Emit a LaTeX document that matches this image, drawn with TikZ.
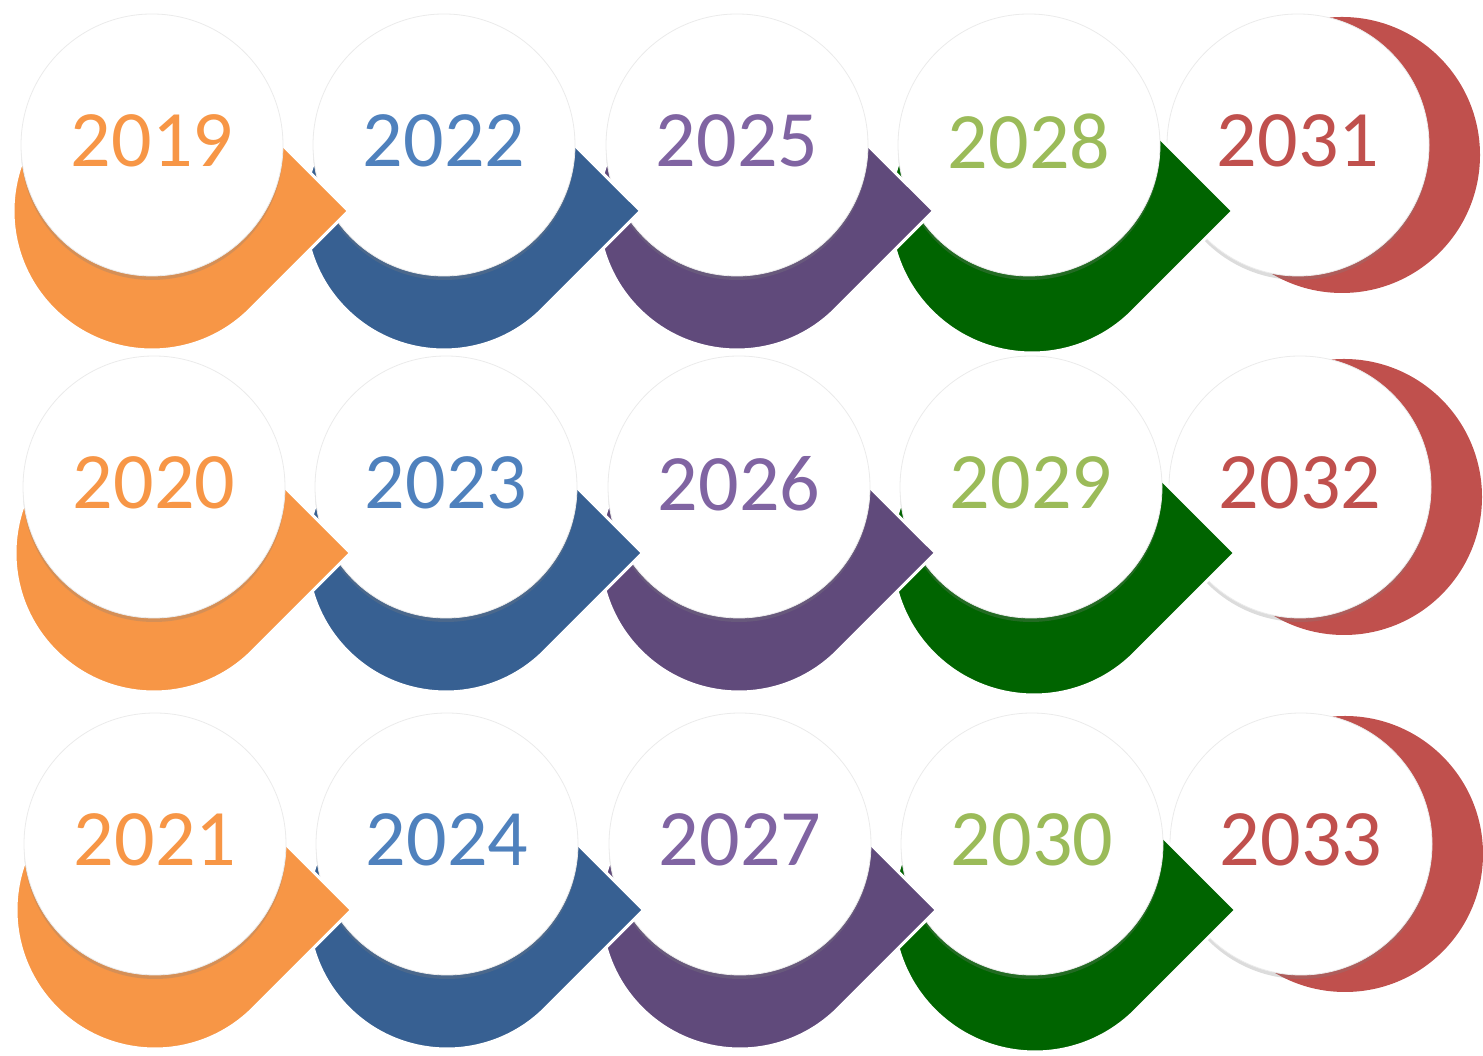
\documentclass[tikz,border=0pt]{standalone}
\usepackage{fontspec}
\setmainfont{Carlito}
\usepackage{tikz}
\usetikzlibrary{shadows}
\definecolor{orangeA}{HTML}{F79646}
\definecolor{blueA}{HTML}{376092}
\definecolor{blueT}{HTML}{4F81BD}
\definecolor{purpleA}{HTML}{604A7B}
\definecolor{purpleT}{HTML}{8064A2}
\definecolor{greenA}{HTML}{006400}
\definecolor{greenT}{HTML}{9BBB59}
\definecolor{redA}{HTML}{C0504D}
\tikzstyle{yearcircle} = [circle, fill=white, draw=black!8, line width=0.8pt,
    minimum size=262pt, inner sep=0pt, text depth=8pt,
    font=\fontsize{80}{80}\selectfont,
    drop shadow={shadow xshift=0pt, shadow yshift=-4pt, opacity=0.28}]
\tikzstyle{dropshape} = [draw=white, line width=3pt]

\begin{document}
\begin{tikzpicture}[x=1pt, y=1pt]
\useasboundingbox (0,0) rectangle (1483,1056);
% one row per loop, drawn from right to left so each tip lies on the next circle
\foreach \yy/\xo/\ya/\yb/\yc/\yd/\ye in {911/0/2019/2022/2025/2028/2031,
    569/2/2020/2023/2026/2029/2032, 212/3/2021/2024/2027/2030/2033}{
  \fill[redA] (1342+\xo,\yy-10) circle[radius=138pt];
  \node[yearcircle, text=redA] (y\ye) at (1298+\xo,\yy) {\ye};
  \path[dropshape, fill=greenA, shift={(1032+\xo,\yy-66)}]
    (200.8pt,0) -- (45:142pt) arc[start angle=45, end angle=315, radius=142pt] -- cycle;
  \node[yearcircle, text=greenT] (y\yd) at (1029+\xo,\yy) {\yd};
  \path[dropshape, fill=purpleA, shift={(737+\xo,\yy-66)}]
    (196.6pt,0) -- (45:139pt) arc[start angle=45, end angle=315, radius=139pt] -- cycle;
  \node[yearcircle, text=purpleT] (y\yc) at (737+\xo,\yy) {\yc};
  \path[dropshape, fill=blueA, shift={(444+\xo,\yy-66)}]
    (196.6pt,0) -- (45:139pt) arc[start angle=45, end angle=315, radius=139pt] -- cycle;
  \node[yearcircle, text=blueT] (y\yb) at (444+\xo,\yy) {\yb};
  \path[dropshape, fill=orangeA, shift={(152+\xo,\yy-66)}]
    (196.6pt,0) -- (45:139pt) arc[start angle=45, end angle=315, radius=139pt] -- cycle;
  \node[yearcircle, text=orangeA] (y\ya) at (152+\xo,\yy) {\ya};
}
\end{tikzpicture}
\end{document}
